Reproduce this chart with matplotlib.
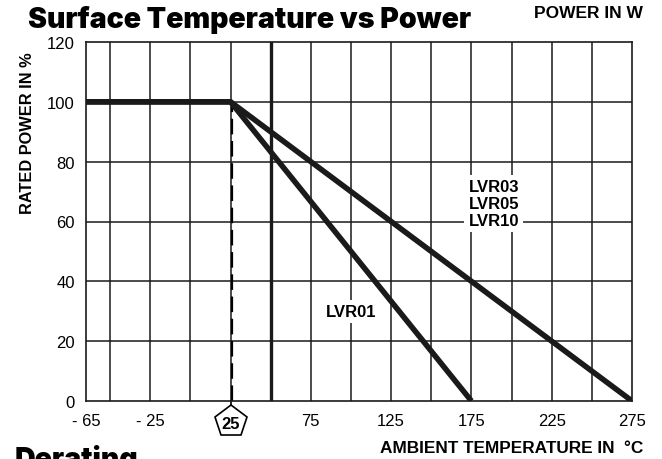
import numpy as np
import matplotlib
matplotlib.use("Agg")
import matplotlib.pyplot as plt

plt.rcParams['font.family'] = ['Liberation Sans', 'DejaVu Sans']

# derating curves: ambient temperature (°C) vs rated power (%)
lvr01_temp = [-65, 25, 175]
lvr01_power = [100, 100, 0]
lvr03_temp = [-65, 25, 275]
lvr03_power = [100, 100, 0]

knee_temp = 25
x_ticks = [-65, -25, 25, 75, 125, 175, 225, 275]
x_labels = ["- 65", "- 25", "", "75", "125", "175", "225", "275"]
y_ticks = [0, 20, 40, 60, 80, 100, 120]
grid_x = np.arange(-50, 275, 25)
grid_y = [20, 40, 60, 80, 100]

fig = plt.figure(figsize=(6.62, 4.6), dpi=100)
ax = fig.add_axes([86 / 662, 1 - 402 / 460, 546 / 662, 359 / 460])
ax.set_xlim(-65, 275)
ax.set_ylim(0, 120)

gc = '#1a1a1a'
for gx in grid_x:
    ax.axvline(gx, color=gc, lw=1.1, zorder=1)
for gy in grid_y:
    ax.axhline(gy, color=gc, lw=1.1, zorder=1)
ax.axvline(50, color=gc, lw=2.4, zorder=1)

# dashed marker at the knee
ax.plot([knee_temp + 1.2, knee_temp + 1.2], [0, 100], color='black', lw=1.6,
        dashes=(7, 3), zorder=2)

ax.plot(lvr01_temp, lvr01_power, color='#1a1a1a', lw=4, solid_capstyle='butt', zorder=3)
ax.plot(lvr03_temp, lvr03_power, color='#1a1a1a', lw=4, solid_capstyle='butt', zorder=3)

box = dict(facecolor='white', edgecolor='none', pad=3)
ax.text(189, 66, "LVR03\nLVR05\nLVR10", ha='center', va='center', fontsize=12,
        fontweight='bold', linespacing=1.15, bbox=box, zorder=4)
ax.text(100, 30, "LVR01", ha='center', va='center', fontsize=12,
        fontweight='bold', bbox=box, zorder=4)

for s in ax.spines.values():
    s.set_color(gc)
    s.set_linewidth(1.2)

ax.set_xticks(x_ticks)
ax.set_xticklabels(x_labels)
ax.set_yticks(y_ticks)
ax.tick_params(axis='both', length=0, labelsize=12)
ax.tick_params(axis='x', pad=9)
ax.tick_params(axis='y', pad=8)

# pentagon badge for 25 °C below the axis
trans = ax.get_xaxis_transform()
ax.plot([knee_temp, knee_temp], [0, -0.03], color='black', lw=1.2,
        transform=trans, clip_on=False)
ax.plot([knee_temp], [-0.058], marker='p', markersize=24, mfc='white',
        mec='black', mew=1.2, transform=trans, clip_on=False)
ax.text(knee_temp, -0.062, "25", ha='center', va='center', fontsize=12,
        fontweight='bold', transform=trans)

heavy = ['Inter', 'Open Sans', 'Liberation Sans', 'DejaVu Sans']
fig.text(28 / 662, 1 - 28 / 460, "Surface Temperature vs Power", fontsize=20.5,
         fontweight=900, family=heavy, ha='left', va='baseline')
fig.text(643 / 662, 1 - 18 / 460, "POWER IN W", fontsize=12.5,
         fontweight='bold', ha='right', va='baseline')
fig.text(28 / 662, 1 - 133 / 460, "RATED POWER IN %", fontsize=11.8,
         fontweight='bold', rotation=90, ha='center', va='center')
fig.text(643 / 662, 1 - 453 / 460, "AMBIENT TEMPERATURE IN  °C", fontsize=12.4,
         fontweight='bold', ha='right', va='baseline')
fig.text(15 / 662, 1 - 468 / 460, "Derating", fontsize=20.5,
         fontweight=900, family=heavy, ha='left', va='baseline')

fig.savefig("out.png", dpi=100)
